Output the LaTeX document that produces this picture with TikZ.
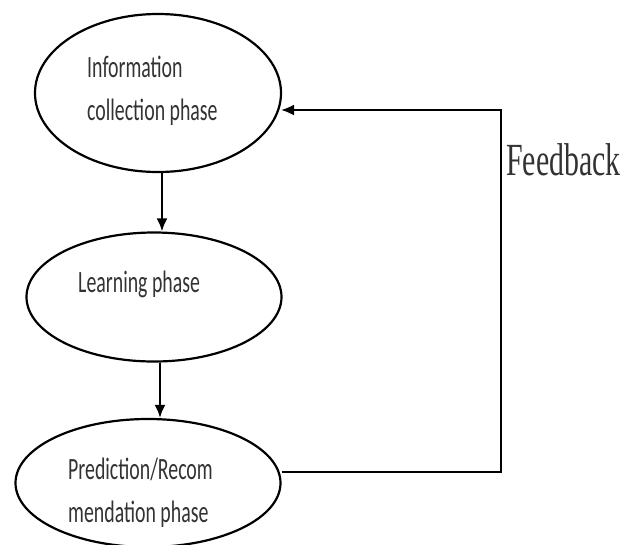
\documentclass[tikz,border=0pt]{standalone}
\usepackage{fontspec}
\setmainfont{Carlito}
\newfontfamily\fbfont{Liberation Serif}
\usetikzlibrary{shapes.geometric,arrows.meta}
\begin{document}
\begin{tikzpicture}[x=1pt,y=-1pt,
  phase/.style={draw=black, line width=2.2pt, ellipse, inner sep=0pt},
  arr/.style={draw=black, line width=2.2pt, -{Latex[length=13pt,width=11pt]}},
  ptext/.style={inner sep=0pt, anchor=west, text=black!80, font=\fontsize{31}{43}\selectfont},
]
\useasboundingbox (0,0) rectangle (624,544);
\fill[white] (0,0) rectangle (624,544);
\node[phase, minimum width=246pt, minimum height=158pt] (e1) at (158,93) {};
\node[phase, minimum width=255pt, minimum height=129pt] (e2) at (154,297) {};
\node[phase, minimum width=265pt, minimum height=128pt] (e3) at (148,483) {};

\node[ptext] (t1) at (87,90) {\scalebox{0.64}[1]{\begin{tabular}{@{}l@{}}Information\\collection phase\end{tabular}}};
\node[ptext] (t2) at (78,284) {\scalebox{0.64}[1]{\begin{tabular}{@{}l@{}}Learning phase\end{tabular}}};
\node[ptext] (t3) at (68,492) {\scalebox{0.64}[1]{\begin{tabular}{@{}l@{}}Prediction/Recom\\mendation phase\end{tabular}}};

\draw[arr] ([xshift=4pt]e1.south) -- ([xshift=4pt]e1.south |- e2.north);
\draw[arr] ([xshift=6pt]e2.south) -- ([xshift=6pt]e2.south |- e3.north);

\coordinate (fbb) at (501,472);
\coordinate (fbt) at (501,110);
\draw[arr] ([yshift=11pt]e3.east) -- (fbb) -- (fbt) -- (281,110);

\node[inner sep=0pt, anchor=base west, text=black!80, font=\fbfont\fontsize{46}{50}\selectfont] (fb) at (506,175) {\scalebox{0.65}[1]{Feedback}};
\end{tikzpicture}
\end{document}
